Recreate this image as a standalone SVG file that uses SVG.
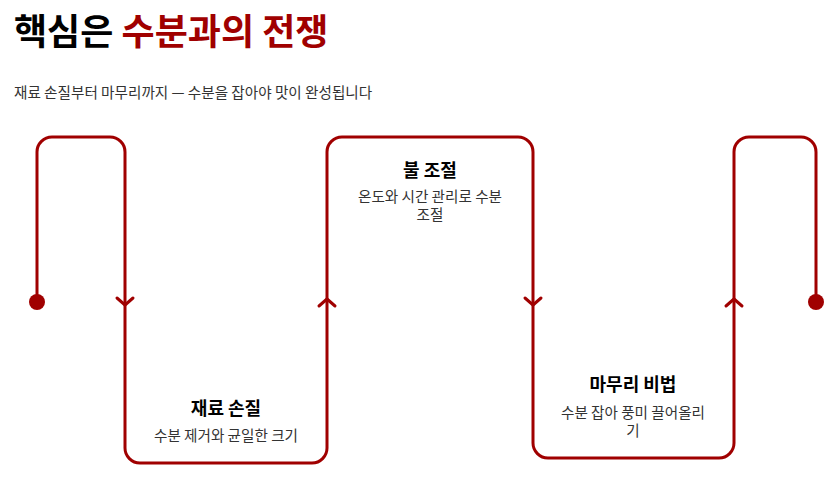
<svg xmlns="http://www.w3.org/2000/svg" width="839" height="490" viewBox="0 0 839 490">
<style>
.t{font-family:"Noto Sans CJK KR","Noto Sans",sans-serif}
.title{font-size:36px;font-weight:700;fill:#000}
.red{fill:#a00000}
.sub{font-size:14.6px;fill:#333}
.nt{font-size:18px;font-weight:700;fill:#000;text-anchor:middle}
.nd{font-size:14.6px;fill:#333;text-anchor:middle}
.ln{fill:none;stroke:#a00000;stroke-width:3;stroke-linejoin:round;stroke-linecap:round}
</style>
<rect width="839" height="490" fill="#fff"/>
<text class="t title" x="14" y="45">핵심은 <tspan class="red">수분과의 전쟁</tspan></text>
<text class="t sub" x="14" y="98">재료 손질부터 마무리까지 — 수분을 잡아야 맛이 완성됩니다</text>
<g id="connectors">
<path class="ln" d="M37,302 V152 A15,15 0 0 1 52,137 H110 A15,15 0 0 1 125,152 V448 A15,15 0 0 0 140,463 H312 A15,15 0 0 0 327,448 V152 A15,15 0 0 1 342,137 H518 A15,15 0 0 1 533,152 V443 A15,15 0 0 0 548,458 H719 A15,15 0 0 0 734,443 V152 A15,15 0 0 1 749,137 H801 A15,15 0 0 1 816,152 V302"/>
<circle cx="37" cy="302" r="8" fill="#a00000"/>
<circle cx="816" cy="302" r="8" fill="#a00000"/>
<polyline class="ln" points="117,298 125,305 133,298"/>
<polyline class="ln" points="319,306 327,299 335,306"/>
<polyline class="ln" points="525,298 533,305 541,298"/>
<polyline class="ln" points="726,306 734,299 742,306"/>
</g>
<g id="node-1">
<text class="t nt" x="226" y="415">재료 손질</text>
<text class="t nd" x="226" y="441">수분 제거와 균일한 크기</text>
</g>
<g id="node-2">
<text class="t nt" x="430" y="177">불 조절</text>
<text class="t nd" x="430" y="202">온도와 시간 관리로 수분</text>
<text class="t nd" x="430" y="220">조절</text>
</g>
<g id="node-3">
<text class="t nt" x="633" y="391">마무리 비법</text>
<text class="t nd" x="633" y="418">수분 잡아 풍미 끌어올리</text>
<text class="t nd" x="633" y="436">기</text>
</g>
</svg>
